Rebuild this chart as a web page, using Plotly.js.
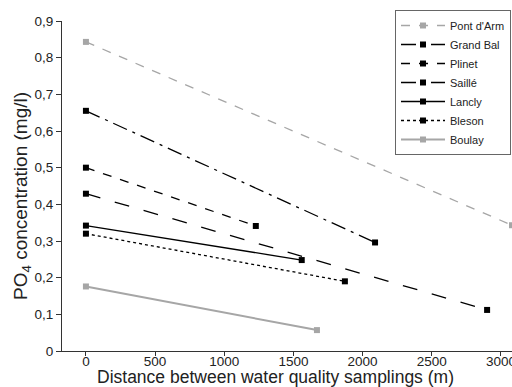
<!DOCTYPE html>
<html>
<head>
<meta charset="utf-8">
<script src="https://cdn.plot.ly/plotly-3.0.1.min.js"></script>
<style>html,body{margin:0;padding:0;background:#fff;}#chart{width:512px;height:387px;}</style>
</head>
<body>
<div id="chart"></div>
<script>
const siteNames = ["Pont d'Arm", "Grand Bal", "Plinet", "Saillé", "Lancly", "Bleson", "Boulay"];
const startDistance = [0, 0, 0, 0, 0, 0, 0];
const endDistance = [3080, 2090, 1228, 2900, 1560, 1872, 1670];
const startPO4 = [0.843, 0.655, 0.500, 0.429, 0.342, 0.320, 0.176];
const endPO4 = [0.343, 0.296, 0.341, 0.112, 0.248, 0.190, 0.057];
const xTicks = [0, 500, 1000, 1500, 2000, 2500, 3000];
const yTicks = [0, 0.1, 0.2, 0.3, 0.4, 0.5, 0.6, 0.7, 0.8, 0.9];
const yTickLabels = ["0", "0,1", "0,2", "0,3", "0,4", "0,5", "0,6", "0,7", "0,8", "0,9"];
const xTitle = 'Distance between water quality samplings (m)';
const yTitle = 'PO<sub>4</sub> concentration (mg/l)';

const lineColors = ["#a6a6a6", "#000000", "#000000", "#000000", "#000000", "#000000", "#a6a6a6"];
const lineDashes = ["dash", "longdashdot", "dash", "longdash", "solid", "dot", "solid"];
const lineWidths = [1.3, 1.3, 1.3, 1.3, 1.3, 1.3, 2];

const traces = siteNames.map((name, i) => ({
  type: 'scatter',
  mode: 'lines+markers',
  name: name,
  x: [startDistance[i], endDistance[i]],
  y: [startPO4[i], endPO4[i]],
  line: {color: lineColors[i], dash: lineDashes[i], width: lineWidths[i]},
  marker: {symbol: 'square', size: 6, color: lineColors[i]}
}));

const layout = {
  width: 512, height: 387,
  margin: {l: 62, r: 0, t: 21, b: 36, pad: 0},
  paper_bgcolor: '#fff', plot_bgcolor: '#fff',
  font: {family: 'Liberation Sans, Arial, sans-serif', size: 13, color: '#222'},
  showlegend: true,
  legend: {
    x: (395 - 62) / 450, y: (351 - 10) / 330, xanchor: 'left', yanchor: 'top',
    bgcolor: '#fff', bordercolor: '#666', borderwidth: 1,
    font: {size: 11, color: '#222'}, itemwidth: 44,
    tracegroupgap: 0
  },
  xaxis: {
    range: [-173, 3080], tickvals: xTicks, showgrid: false, zeroline: false,
    showline: true, linecolor: '#333', linewidth: 1,
    ticks: 'outside', ticklen: 4, tickcolor: '#333',
    tickfont: {size: 13.5}, ticklabeloverflow: 'allow', ticklabelstandoff: -6,
    automargin: false
  },
  yaxis: {
    range: [0, 0.9], tickvals: yTicks, ticktext: yTickLabels, showgrid: false, zeroline: false,
    showline: true, linecolor: '#333', linewidth: 1,
    ticks: 'outside', ticklen: 5, tickcolor: '#333',
    tickfont: {size: 13.5}, automargin: false
  },
  annotations: [
    {text: xTitle, xref: 'paper', yref: 'paper', x: (275 - 62) / 450, y: (351 - 377) / 330,
     xanchor: 'center', yanchor: 'middle', showarrow: false, font: {size: 17.5, color: '#222'}},
    {text: yTitle, xref: 'paper', yref: 'paper', x: (22 - 62) / 450, y: (351 - 196) / 330,
     xanchor: 'center', yanchor: 'middle', textangle: -90, showarrow: false, font: {size: 19, color: '#222'}}
  ]
};

Plotly.newPlot('chart', traces, layout, {displayModeBar: false, staticPlot: true});
</script>
</body>
</html>
